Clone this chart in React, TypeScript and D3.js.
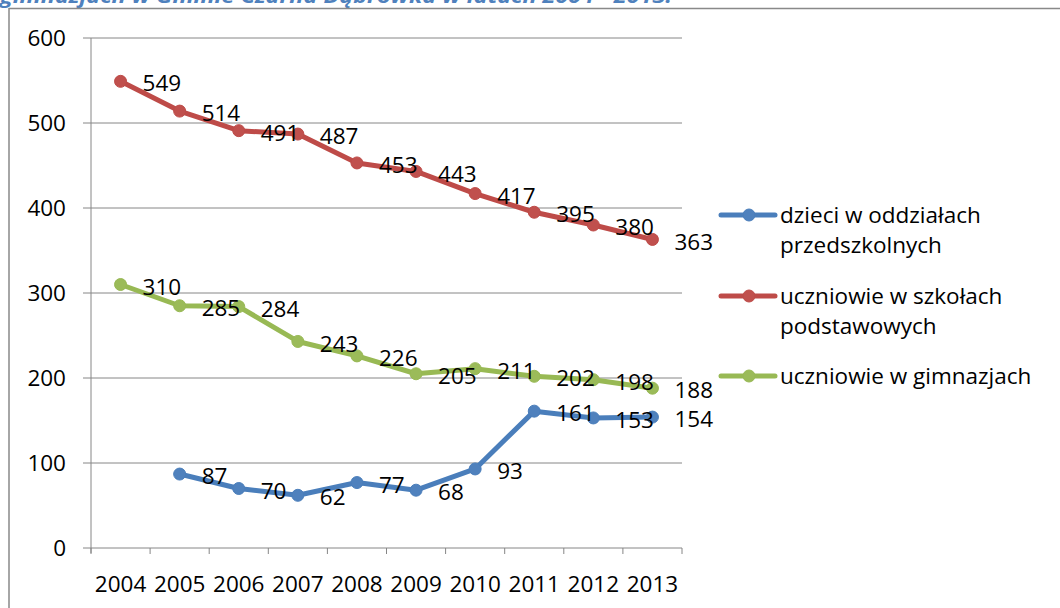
import React from "react";
import * as d3 from "d3";

const years = ["2004", "2005", "2006", "2007", "2008", "2009", "2010", "2011", "2012", "2013"];
const przedszkolne: (number | null)[] = [null, 87, 70, 62, 77, 68, 93, 161, 153, 154];
const podstawowe: (number | null)[] = [549, 514, 491, 487, 453, 443, 417, 395, 380, 363];
const gimnazja: (number | null)[] = [310, 285, 284, 243, 226, 205, 211, 202, 198, 188];
const yTicks = [0, 100, 200, 300, 400, 500, 600];
const seriesNames = [
  ["dzieci w oddziałach", "przedszkolnych"],
  ["uczniowie w szkołach", "podstawowych"],
  ["uczniowie w gimnazjach"],
];
const title = "gimnazjach w Gminie Czarna Dąbrówka w latach 2004 - 2013.";

const FONT = "'Open Sans', 'Liberation Sans', sans-serif";
const FS = 22.5;

export default function App() {
  const W = 1060, H = 608;
  const left = 91, right = 682, top = 38, bottom = 548;
  const x = d3.scaleBand<string>().domain(years).range([left, right]).padding(0);
  const y = d3.scaleLinear().domain([0, 600]).range([bottom, top]);
  const cx = (i: number) => (x(years[i]) as number) + x.bandwidth() / 2;

  const series = [
    { data: przedszkolne, line: "#4A7EBB", fill: "#4F81BD" },
    { data: podstawowe, line: "#BE4B48", fill: "#C0504D" },
    { data: gimnazja, line: "#98B954", fill: "#9BBB59" },
  ];

  const lineGen = d3
    .line<number | null>()
    .defined((d) => d !== null)
    .x((_, i) => cx(i))
    .y((d) => y(d as number));

  const boundaries = years.map((yr) => x(yr) as number).concat([right]);

  const legendY = [215, 296, 376];

  return (
    <svg
      width={W}
      height={H}
      style={{ position: "absolute", left: 0, top: 0, background: "#fff" }}
      fontFamily={FONT}
    >
      <text
        x={0}
        y={3}
        fontSize={19}
        fontWeight="bold"
        fontStyle="italic"
        fill="#4F81BD"
        textLength={672}
        lengthAdjust="spacingAndGlyphs"
      >
        {title}
      </text>
      {/* chart border */}
      <line x1={9} x2={W} y1={8.5} y2={8.5} stroke="#898989" strokeWidth={1.5} />
      <line x1={9} x2={9} y1={8} y2={H} stroke="#898989" strokeWidth={1.5} />

      {/* gridlines and y ticks */}
      {yTicks.map((t) => (
        <g key={t}>
          <line x1={83} x2={right} y1={y(t)} y2={y(t)} stroke="#868686" strokeWidth={1} />
          <text x={66} y={y(t)} dy="0.36em" textAnchor="end" fontSize={FS} fill="#000">
            {t}
          </text>
        </g>
      ))}
      {/* axes */}
      <line x1={left} x2={left} y1={top} y2={bottom + 5} stroke="#868686" strokeWidth={1} />
      {boundaries.map((b, i) => (
        <line key={i} x1={b} x2={b} y1={bottom} y2={bottom + 6} stroke="#868686" strokeWidth={1} />
      ))}
      {years.map((yr, i) => (
        <text key={yr} x={cx(i)} y={592} textAnchor="middle" fontSize={FS} fill="#000">
          {yr}
        </text>
      ))}

      {/* lines */}
      {series.map((s, si) => (
        <g key={si}>
          <path d={lineGen(s.data) || ""} fill="none" stroke={s.line} strokeWidth={5} strokeLinejoin="round" />
          {s.data.map((d, i) =>
            d === null ? null : <circle key={i} cx={cx(i)} cy={y(d)} r={6} fill={s.fill} stroke={s.line} strokeWidth={1} />
          )}
        </g>
      ))}
      {/* data labels */}
      {series.map((s, si) => (
        <g key={"l" + si}>
          {s.data.map((d, i) =>
            d === null ? null : (
              <text key={i} x={cx(i) + 22} y={y(d) + 2} dy="0.36em" fontSize={FS} fill="#000">
                {d}
              </text>
            )
          )}
        </g>
      ))}

      {/* legend */}
      {series.map((s, si) => (
        <g key={"lg" + si}>
          <line x1={721} x2={775} y1={legendY[si]} y2={legendY[si]} stroke={s.line} strokeWidth={5} strokeLinecap="round" />
          <circle cx={749} cy={legendY[si]} r={6} fill={s.fill} stroke={s.line} strokeWidth={1} />
          {seriesNames[si].map((ln, li) => (
            <text key={li} x={780} y={legendY[si] + 8 + li * 30} fontSize={FS} fill="#000">
              {ln}
            </text>
          ))}
        </g>
      ))}
    </svg>
  );
}
